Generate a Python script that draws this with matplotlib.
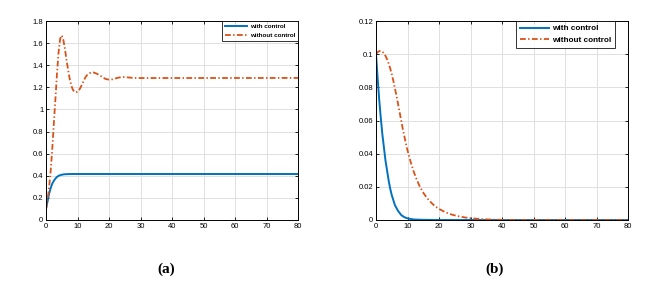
import matplotlib

matplotlib.use("Agg")
import matplotlib.pyplot as plt

plt.rcParams["font.family"] = ["Liberation Sans", "DejaVu Sans"]

# panel (a)
t_a_ctrl = [0, 0.5, 1, 1.5, 2, 2.5, 3, 3.5, 4, 5, 6, 7, 8, 80]
y_a_ctrl = [0.1, 0.17, 0.24, 0.29, 0.33, 0.355, 0.375, 0.39, 0.4, 0.41,
            0.414, 0.415, 0.416, 0.416]
t_a_free = [0, 0.5, 1, 1.5, 2, 2.5, 3, 3.5, 4, 4.5, 5, 5.5, 6, 6.5, 7, 7.5,
            8, 8.5, 9, 9.5, 10, 10.5, 11, 11.5, 12, 12.5, 13, 14, 15, 16, 17,
            18, 19, 20, 21, 22, 23, 24, 25, 26, 27, 28, 30, 80]
y_a_free = [0.1, 0.18, 0.3, 0.45, 0.65, 0.88, 1.1, 1.33, 1.52, 1.64, 1.67,
            1.63, 1.55, 1.45, 1.36, 1.28, 1.22, 1.18, 1.16, 1.155, 1.16, 1.175,
            1.2, 1.23, 1.26, 1.29, 1.31, 1.33, 1.335, 1.325, 1.31, 1.29, 1.275,
            1.27, 1.272, 1.28, 1.288, 1.292, 1.293, 1.29, 1.287, 1.285, 1.284,
            1.285]

# panel (b)
t_b_ctrl = [0, 0.5, 1, 1.5, 2, 2.5, 3, 3.5, 4, 4.5, 5, 6, 7, 8, 9, 10, 12,
            15, 20, 80]
y_b_ctrl = [0.1, 0.086, 0.073, 0.062, 0.052, 0.044, 0.036, 0.03, 0.024,
            0.019, 0.015, 0.009, 0.0055, 0.003, 0.0017, 0.001, 0.0003, 0.0001,
            0, 0]
t_b_free = [0, 0.5, 1, 1.5, 2, 2.5, 3, 3.5, 4, 4.5, 5, 5.5, 6, 6.5, 7, 7.5,
            8, 8.5, 9, 9.5, 10, 11, 12, 13, 14, 15, 16, 17, 18, 19, 20, 22, 24,
            26, 28, 30, 33, 36, 40, 45, 50, 80]
y_b_free = [0.1, 0.1012, 0.1018, 0.102, 0.1016, 0.1005, 0.099, 0.097, 0.0945,
            0.0915, 0.088, 0.084, 0.0795, 0.075, 0.07, 0.065, 0.06, 0.055,
            0.0505, 0.046, 0.042, 0.035, 0.029, 0.024, 0.0198, 0.0165, 0.0137,
            0.0115, 0.0096, 0.008, 0.0067, 0.0047, 0.0033, 0.0023, 0.0016,
            0.0011, 0.0006, 0.0003, 0.0001, 0.00003, 0, 0]

xticks = [0, 10, 20, 30, 40, 50, 60, 70, 80]
yticks_a = [0, 0.2, 0.4, 0.6, 0.8, 1, 1.2, 1.4, 1.6, 1.8]
ytick_labels_a = ["0", "0.2", "0.4", "0.6", "0.8", "1", "1.2", "1.4", "1.6", "1.8"]
yticks_b = [0, 0.02, 0.04, 0.06, 0.08, 0.1, 0.12]
ytick_labels_b = ["0", "0.02", "0.04", "0.06", "0.08", "0.1", "0.12"]

BLUE = "#0072BD"
ORANGE = "#D95319"
DASHDOT = (0, (3.2, 1.3, 0.8, 1.3))

fig = plt.figure(figsize=(6.55, 2.82), dpi=100)
W, H = 655, 282
ax_a = fig.add_axes([46 / W, 1 - 220 / H, 252 / W, 199 / H])
ax_b = fig.add_axes([376 / W, 1 - 220 / H, 252 / W, 199 / H])

# (axes, data..., ymax, legend font size, legend anchor x, legend spacing)
panels = [
    (ax_a, t_a_ctrl, y_a_ctrl, t_a_free, y_a_free, yticks_a, ytick_labels_a,
     1.8, 4.5, 1.0, 0.55),
    (ax_b, t_b_ctrl, y_b_ctrl, t_b_free, y_b_free, yticks_b, ytick_labels_b,
     0.12, 5.9, 0.95, 0.45),
]
for ax, tc, yc, tf, yf, yt, ytl, ymax, legfs, legx, legsp in panels:
    ax.plot(tc, yc, color=BLUE, lw=1.4, label="with control")
    ax.plot(tf, yf, color=ORANGE, lw=1.3, ls=DASHDOT, label="without control")
    ax.set_xlim(0, 80)
    ax.set_ylim(0, ymax)
    ax.set_xticks(xticks)
    ax.set_yticks(yt)
    ax.set_yticklabels(ytl)
    ax.grid(True, color="#e0e0e0", lw=0.7)
    ax.set_axisbelow(True)
    ax.tick_params(direction="in", length=2.5, width=0.6, labelsize=5.5,
                   top=True, right=True, pad=2)
    for s in ax.spines.values():
        s.set_linewidth(0.7)
    leg = ax.legend(loc="upper right", bbox_to_anchor=(legx, 1.0),
                    frameon=True, fancybox=False, borderaxespad=0,
                    handlelength=3.6, borderpad=0.45, labelspacing=legsp,
                    handletextpad=0.4,
                    prop={"size": legfs, "weight": "bold"})
    leg.get_frame().set_edgecolor("black")
    leg.get_frame().set_linewidth(0.7)

fig.text(166 / W, 1 - 269 / H, "(a)", ha="center", va="center",
         family="Liberation Serif", weight="bold", fontsize=11)
fig.text(495 / W, 1 - 269 / H, "(b)", ha="center", va="center",
         family="Liberation Serif", weight="bold", fontsize=11)

fig.savefig("out.png", dpi=100)
